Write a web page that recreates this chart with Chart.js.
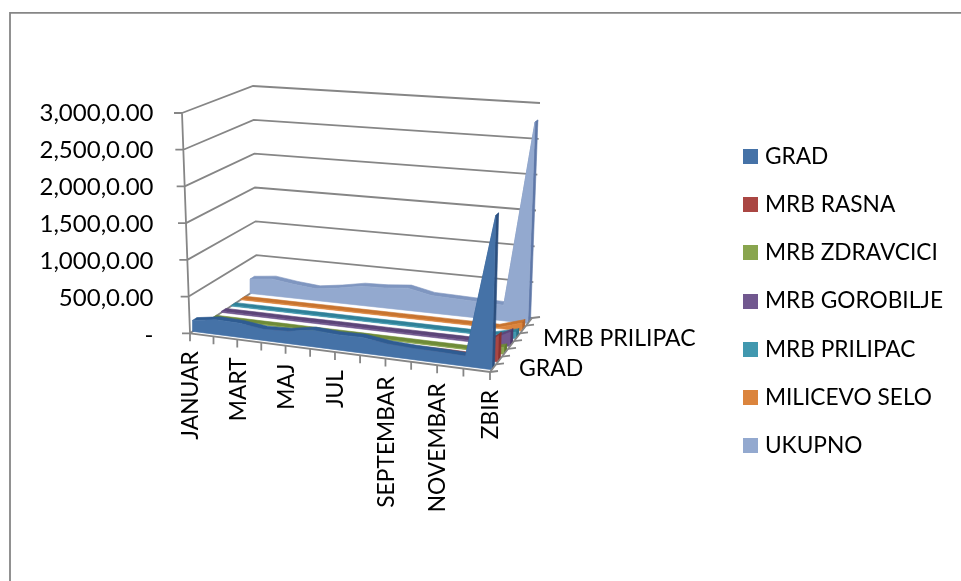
<!DOCTYPE html>
<html>
<head>
<meta charset="utf-8">
<style>html,body{margin:0;padding:0;background:#fff}canvas{position:absolute;left:0;top:0;display:block}</style>
<script src="https://cdn.jsdelivr.net/npm/chart.js@4"></script>
</head>
<body>
<canvas id="c" width="961" height="581" style="width:961px;height:581px"></canvas>
<script>
const categories = ['JANUAR','FEBRUAR','MART','APRIL','MAJ','JUN','JUL','AVGUST','SEPTEMBAR','OKTOBAR','NOVEMBAR','DECEMBAR','ZBIR'];
const seriesNames = ['GRAD','MRB RASNA','MRB ZDRAVCICI','MRB GOROBILJE','MRB PRILIPAC','MILICEVO SELO','UKUPNO'];
const grad = [150,200,190,150,165,220,200,205,160,145,140,130,1960];
const mrbRasna = [30,28,25,22,20,35,25,28,30,30,35,30,340];
const mrbZdravcici = [8,8,7,8,7,8,8,7,8,7,8,7,90];
const mrbGorobilje = [16,15,16,14,15,17,16,15,16,15,17,16,190];
const mrbPrilipac = [8,8,7,7,8,8,7,8,8,7,8,7,90];
const milicevoSelo = [9,10,9,9,10,9,9,9,10,9,9,9,110];
const ukupno = [210,245,200,170,215,275,285,315,245,235,225,215,2780];
const yTickValues = [0,500,1000,1500,2000,2500,3000];
const yTickLabels = ['-','500,0.00','1,000,0.00','1,500,0.00','2,000,0.00','2,500,0.00','3,000,0.00'];
const shownCategoryLabels = ['JANUAR','MART','MAJ','JUL','SEPTEMBAR','NOVEMBAR','ZBIR'];
const shownSeriesLabels = ['GRAD','MRB PRILIPAC'];

const seriesValues = [grad,mrbRasna,mrbZdravcici,mrbGorobilje,mrbPrilipac,milicevoSelo,ukupno];
const faceColors = ['#4572A7','#AA4643','#89A54E','#71588F','#4198AF','#DB843D','#93A9CF'];
const topColors  = ['#2F5C92','#8E3634','#6F8B38','#5C4579','#2F8199','#C8742F','#7F96C0'];
const sideColors = ['#2C4F7E','#8A3230','#5F7A2E','#4F3A6B','#2A6F85','#B5652A','#5F78A8'];
const GRID = '#868686';
const FONT = 'Lato';

// projection of the 3-D box (category position, depth, value) to the page
const F00=[190,333.3],F10=[490,372],F01=[257,289],F11=[532,318],
      T00=[182,113],T10=[496,135],T01=[253,86],T11=[540,103];
const MAXV = 3000, PERSP = 0.935;
function lerp(a,b,t){return [a[0]+(b[0]-a[0])*t,a[1]+(b[1]-a[1])*t];}
function P(u,z,v){
  const w = u*PERSP/(1-u*(1-PERSP));
  const fl = lerp(lerp(F00,F10,w),lerp(F01,F11,w),z);
  const tp = lerp(lerp(T00,T10,w),lerp(T01,T11,w),z);
  return lerp(fl,tp,v/MAXV);
}
// the value axis: value -> page y
const Y0=335, YK=222/3000;
const toVal = py => (Y0-py)/YK;
const pt = p => ({x:p[0],y:toVal(p[1])});
const GAP = {x:NaN,y:NaN};

function swatch(color){
  const s=document.createElement('canvas');s.width=15;s.height=15;
  const c=s.getContext('2d');c.fillStyle=color;c.fillRect(0,0,15,15);return s;
}
function poly(points,color,order,label){
  return {label:label||'',data:points.map(pt).concat([pt(points[0])]),backgroundColor:color,borderColor:color,
    pointStyle:label?swatch(color):'circle',
    borderWidth:0.6,pointRadius:0,fill:'shape',tension:0,order:order,showLine:true,clip:false};
}
function lines(segs,order,width){
  const d=[];segs.forEach(s=>{s.forEach(p=>d.push(pt(p)));d.push(GAP);});
  return {label:'',data:d,borderColor:GRID,backgroundColor:GRID,borderWidth:width||1.8,pointRadius:0,fill:false,tension:0,order:order,showLine:true,clip:false,spanGaps:false};
}
const nCat = categories.length-1;
const Z0=0.043, ZSTEP=1/7, ZT=0.065;
const faces=[],others=[];
seriesValues.forEach((vals,k)=>{
  const zf=Z0+k*ZSTEP, zb=zf+ZT, base=(k+1)*10;
  const front=vals.map((v,i)=>P(i/nCat,zf,v));
  const back=vals.map((v,i)=>P(i/nCat,zb,v));
  faces.push(poly(front.concat([P(1,zf,0),P(0,zf,0)]),faceColors[k],base,seriesNames[k]));
  others.push(poly(front.concat(back.slice().reverse()),topColors[k],base+2));
  const V=vals[nCat];
  others.push(poly([P(1,zf,0),P(1,zf,V),P(1,zb,V),P(1,zb,0)],sideColors[k],base+1));
});
const wall=yTickValues.map(v=>[P(0,0,v),P(0,1,v),P(1,1,v)]);
wall.push([P(0,0,0),P(0,0,MAXV)]);
const axisTicks=yTickValues.map(v=>{const p=P(0,0,v);return [p,[p[0]-8,p[1]]];});
const floorEdges=[[P(0,0,0),P(1,0,0),P(1,1,0)]];
const floorTicks=[];
categories.forEach((c,i)=>{const p=P(i/nCat,0,0);floorTicks.push([p,[p[0],p[1]+8]]);});
seriesNames.concat(['']).forEach((s,k)=>{const p=P(1,k/7,0);floorTicks.push([p,[p[0]+8,p[1]-1]]);});

const painter={
  id:'painter',
  beforeDraw(ch){
    const c=ch.ctx;c.save();
    c.fillStyle='#fff';c.fillRect(0,0,961,581);
    c.strokeStyle=GRID;c.lineWidth=1.8;
    c.beginPath();c.moveTo(10,590);c.lineTo(10,12.8);c.lineTo(970,12.8);c.stroke();
    c.restore();
  },
  afterLayout(ch){
    const x=ch.scales.x;x.min=x.left;x.max=x.right;x.configure();
    const y=ch.scales.y;y.min=toVal(y.bottom);y.max=toVal(y.top);y.configure();
  },
  afterDraw(ch){
    const c=ch.ctx;c.save();
    c.fillStyle='#000';c.font='22.8px '+FONT;c.textBaseline='middle';
    shownCategoryLabels.forEach(l=>{
      const p=P(categories.indexOf(l)/nCat,0,0);
      c.save();c.translate(p[0]+1,p[1]+18);c.rotate(-Math.PI/2);c.textAlign='right';c.fillText(l,0,0);c.restore();
    });
    c.textAlign='left';c.font='23px '+FONT;
    shownSeriesLabels.forEach(l=>{
      const p=P(1,seriesNames.indexOf(l)/7,0);
      c.fillText(l,p[0]+29,p[1]-3);
    });
    c.restore();
  }
};

new Chart(document.getElementById('c'),{
  type:'scatter',
  data:{datasets:faces.concat(others,[lines(wall,1000),lines(axisTicks,1000),lines(floorEdges,1),lines(floorTicks,1)])},
  options:{
    responsive:false,animation:false,devicePixelRatio:1,
    layout:{padding:{top:21,bottom:0,left:0,right:8}},
    plugins:{
      tooltip:{enabled:false},
      legend:{position:'right',align:'center',
        labels:{usePointStyle:true,pointStyleWidth:6,boxHeight:15,padding:25.5,color:'#000',font:{family:FONT,size:22.7},
          filter:i=>i.text!==''}}
    },
    scales:{
      x:{type:'linear',display:false,min:0,max:961},
      y:{type:'linear',position:'left',min:-3000,max:4000,
        grid:{display:false},border:{display:false},
        afterFit(s){s.width=183;},
        afterBuildTicks(s){s.ticks=yTickValues.map(v=>({value:v}));},
        ticks:{padding:21.5,autoSkip:false,color:'#000',font:{family:FONT,size:24},
          callback:v=>yTickLabels[yTickValues.indexOf(v)]}
      }
    }
  },
  plugins:[painter]
});
</script>
</body>
</html>
